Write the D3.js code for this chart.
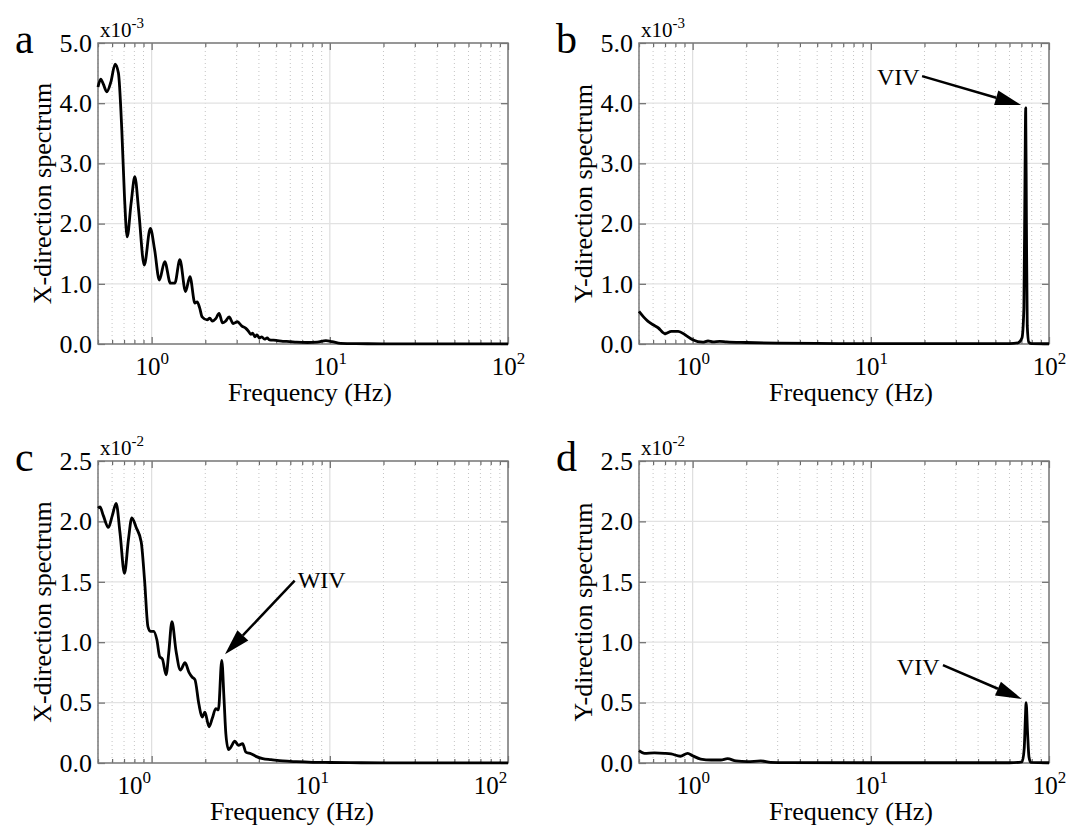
<!DOCTYPE html>
<html>
<head>
<meta charset="utf-8">
<script src="https://cdn.jsdelivr.net/npm/d3@7"></script>
<style>
body { margin: 0; background: #fff; }
text { font-family: "Liberation Serif", "Times New Roman", serif; fill: #000; }
</style>
</head>
<body>
<svg id="fig" width="1079" height="830"></svg>
<script>
// ---- data (frequency in Hz, spectrum in units of the axis exponent)
var freqA = [0.5, 0.518, 0.535, 0.56, 0.59, 0.624, 0.651, 0.68, 0.704, 0.729, 0.767, 0.805, 0.845, 0.909, 0.983,
    1.04, 1.105, 1.184, 1.275, 1.349, 1.44, 1.55, 1.64, 1.75, 1.8, 1.86, 1.92, 2.05, 2.12, 2.19, 2.29, 2.39, 2.5,
    2.6, 2.72, 2.87, 3.03, 3.2, 3.38, 3.5, 3.6, 3.69, 3.8, 3.9, 4.02, 4.15, 4.3, 4.45, 4.58, 5.0, 5.45, 5.94, 6.5,
    7.5, 8.5, 9.5, 10.3, 11.5, 14, 20, 40, 100];
var specA = [4.27, 4.40, 4.32, 4.19, 4.35, 4.65, 4.50, 3.56, 2.45, 1.78, 2.34, 2.78, 2.23, 1.31, 1.92,
    1.56, 1.06, 1.37, 1.01, 1.01, 1.40, 0.87, 1.12, 0.68, 0.70, 0.60, 0.45, 0.40, 0.43, 0.38, 0.42, 0.51, 0.35,
    0.38, 0.45, 0.34, 0.37, 0.30, 0.26, 0.21, 0.16, 0.18, 0.12, 0.15, 0.10, 0.12, 0.08, 0.10, 0.07, 0.06, 0.045, 0.04, 0.03,
    0.025, 0.03, 0.055, 0.04, 0.01, 0.005, 0.003, 0.002, 0.002];

var freqB = [0.5, 0.53, 0.56, 0.6, 0.64, 0.7, 0.76, 0.83, 0.91, 1.0, 1.14, 1.22, 1.3, 1.42, 1.55, 2, 3, 5, 10, 30,
    60, 67, 70.5, 72.3, 73.3, 74, 74.7, 75.5, 77, 80, 100];
var specB = [0.54, 0.45, 0.38, 0.32, 0.27, 0.17, 0.21, 0.21, 0.15, 0.07, 0.03, 0.05, 0.035, 0.045, 0.035, 0.025, 0.015, 0.01, 0.006, 0.005,
    0.006, 0.02, 0.1, 0.6, 2.7, 3.92, 2.0, 0.3, 0.03, 0.005, 0.004];

var freqC = [0.5, 0.513, 0.535, 0.572, 0.602, 0.632, 0.665, 0.704, 0.741, 0.774, 0.819, 0.874, 0.913, 0.953, 0.983,
    1.026, 1.07, 1.11, 1.15, 1.205, 1.247, 1.3, 1.37, 1.45, 1.54, 1.62, 1.69, 1.75, 1.84, 1.92, 1.99, 2.1, 2.19,
    2.29, 2.37, 2.475, 2.55, 2.61, 2.7, 2.78, 2.93, 3.07, 3.24, 3.38, 3.61, 3.85, 4.2, 4.68, 5.45, 6.47, 8, 10, 15, 30, 100];
var specC = [2.11, 2.12, 2.05, 1.95, 2.05, 2.15, 1.90, 1.57, 1.85, 2.03, 1.95, 1.83, 1.51, 1.13, 1.09,
    1.09, 1.02, 0.88, 0.86, 0.73, 0.91, 1.17, 0.93, 0.77, 0.83, 0.75, 0.71, 0.69, 0.49, 0.38, 0.42, 0.30, 0.37,
    0.45, 0.44, 0.85, 0.52, 0.24, 0.11, 0.13, 0.18, 0.146, 0.16, 0.09, 0.077, 0.055, 0.036, 0.028, 0.017, 0.011, 0.006, 0.004, 0.002, 0.001, 0.001];

var freqD = [0.5, 0.537, 0.61, 0.695, 0.757, 0.853, 0.938, 1.0, 1.11, 1.27, 1.44, 1.57, 1.75, 2.03, 2.41, 2.74, 3.39,
    10, 60, 70.7, 72.6, 73.6, 74.4, 75.8, 77.2, 79, 100];
var specD = [0.103, 0.08, 0.083, 0.08, 0.075, 0.056, 0.08, 0.06, 0.033, 0.025, 0.025, 0.036, 0.017, 0.011, 0.017, 0.006, 0.003,
    0.002, 0.002, 0.01, 0.12, 0.35, 0.5, 0.25, 0.05, 0.005, 0.002];

// axis ticks
var freqDomain = [0.5, 100];
var decades = [1, 10, 100];
var yTicksAB = [0, 1, 2, 3, 4, 5];
var yTicksCD = [0, 0.5, 1.0, 1.5, 2.0, 2.5];

// annotations: [label, text f, text v, arrow-tail f, arrow-tail v, tip f, tip v]
var noteB = ['VIV', 18.8, 4.45, 19.4, 4.45, 69.8, 3.97];
var noteC = ['WIV', 6.6, 1.52, 6.35, 1.51, 2.58, 0.9];
var noteD = ['VIV', 24.3, 0.80, 25.4, 0.81, 70.4, 0.53];

var svg = d3.select('#fig');
var panelW = 410;

function drawPanel(p) {
    var h = p.h;
    var x = d3.scaleLog().domain(freqDomain).range([0, panelW]);
    var y = d3.scaleLinear().domain([0, p.yTicks[p.yTicks.length - 1]]).range([h, 0]);
    var g = svg.append('g').attr('transform', 'translate(' + p.left + ',' + p.top + ')');

    var minor = x.ticks().filter(function(d) { return decades.indexOf(d) < 0; });

    // grid
    g.selectAll('.vminor').data(minor).enter().append('line')
        .attr('x1', d => x(d)).attr('x2', d => x(d))
        .attr('y1', 0).attr('y2', h)
        .attr('stroke', '#c4c4c4').attr('stroke-width', 1).attr('stroke-dasharray', '1,3');
    g.selectAll('.vmajor').data(decades).enter().append('line')
        .attr('x1', d => x(d)).attr('x2', d => x(d))
        .attr('y1', 0).attr('y2', h)
        .attr('stroke', '#dedede').attr('stroke-width', 1.2);
    g.selectAll('.hmajor').data(p.yTicks).enter().append('line')
        .attr('x1', 0).attr('x2', panelW)
        .attr('y1', d => y(d)).attr('y2', d => y(d))
        .attr('stroke', '#e2e2e2').attr('stroke-width', 1.2);

    // inward ticks on all sides
    function ticks(axis, tr) {
        var a = g.append('g').attr('transform', tr).call(axis);
        a.select('.domain').remove();
        a.selectAll('line').attr('stroke', '#6a6a6a').attr('stroke-width', 1.2);
        return a;
    }
    ticks(d3.axisBottom(x).tickValues(minor).tickSize(-4).tickFormat(''), 'translate(0,' + h + ')');
    ticks(d3.axisTop(x).tickValues(minor).tickSize(-4).tickFormat(''), 'translate(0,0)');
    ticks(d3.axisTop(x).tickValues(decades).tickSize(-7).tickFormat(''), 'translate(0,0)');
    ticks(d3.axisRight(y).tickValues(p.yTicks).tickSize(-7).tickFormat(''), 'translate(' + panelW + ',0)');

    var xa = ticks(d3.axisBottom(x).tickValues(decades).tickSize(-7), 'translate(0,' + h + ')');
    xa.selectAll('text').text(null)
        .attr('y', 31).attr('dy', 0)
        .attr('x', p.labelShift)
        .style('font-size', '25px')
        .style('font-family', '"Liberation Serif", serif')
        .each(function(d) {
            var t = d3.select(this);
            t.append('tspan').text('10');
            t.append('tspan').attr('dy', '-0.62em').style('font-size', '17px').text(Math.round(Math.log10(d)));
        });

    var ya = ticks(d3.axisLeft(y).tickValues(p.yTicks).tickSize(-7).tickPadding(6).tickFormat(d3.format('.1f')), 'translate(0,0)');
    ya.selectAll('text')
        .style('font-size', '26px')
        .style('font-family', '"Liberation Serif", serif');

    // frame
    g.append('rect').attr('width', panelW).attr('height', h)
        .attr('fill', 'none').attr('stroke', '#7a7a7a').attr('stroke-width', 1.5);

    // curve
    var line = d3.line()
        .x(function(d, i) { return x(p.freq[i]); })
        .y(function(d) { return y(d); })
        .curve(d3.curveMonotoneX);
    g.append('path').datum(p.spec)
        .attr('d', line)
        .attr('fill', 'none').attr('stroke', '#000')
        .attr('stroke-width', 2.8).attr('stroke-linejoin', 'round');

    // labels
    var ex = g.append('text').attr('x', 2).attr('y', -6).style('font-size', '21px');
    ex.append('tspan').text('x10');
    ex.append('tspan').attr('dy', '-0.6em').style('font-size', '15px').text(p.exp);

    g.append('text').attr('x', -83).attr('y', 10).style('font-size', '42px').text(p.letter);

    g.append('text')
        .attr('transform', 'translate(-56,' + (h / 2) + ') rotate(-90)')
        .attr('text-anchor', 'middle').attr('dy', '0.35em')
        .style('font-size', '26px').text(p.ylabel);

    g.append('text')
        .attr('x', panelW / 2 + 7 + p.labelShift).attr('y', h + 57)
        .attr('text-anchor', 'middle')
        .style('font-size', '26px').text('Frequency (Hz)');

    if (p.note) {
        var n = p.note;
        var leftSide = n[1] < n[3];
        g.append('text')
            .attr('x', x(n[1])).attr('y', y(n[2]))
            .attr('dy', '0.35em')
            .attr('text-anchor', leftSide ? 'end' : 'start')
            .style('font-size', '24px').text(n[0]);
        var x0 = x(n[3]), y0 = y(n[4]), x1 = x(n[5]), y1 = y(n[6]);
        var ang = Math.atan2(y1 - y0, x1 - x0);
        var len = 26, hw = 7.5;
        var bx = x1 - len * Math.cos(ang), by = y1 - len * Math.sin(ang);
        g.append('line')
            .attr('x1', x0).attr('y1', y0).attr('x2', bx).attr('y2', by)
            .attr('stroke', '#000').attr('stroke-width', 2.5);
        g.append('polygon')
            .attr('points', [
                [x1, y1],
                [bx + hw * Math.sin(ang), by - hw * Math.cos(ang)],
                [bx - hw * Math.sin(ang), by + hw * Math.cos(ang)]
            ].map(function(q) { return q.join(','); }).join(' '))
            .attr('fill', '#000');
    }
}

drawPanel({ left: 98, top: 43, h: 301, freq: freqA, spec: specA, yTicks: yTicksAB, exp: '-3', letter: 'a',
    ylabel: 'X-direction spectrum', labelShift: 0, note: null });
drawPanel({ left: 639, top: 43, h: 301, freq: freqB, spec: specB, yTicks: yTicksAB, exp: '-3', letter: 'b',
    ylabel: 'Y-direction spectrum', labelShift: 0, note: noteB });
drawPanel({ left: 98, top: 461, h: 302, freq: freqC, spec: specC, yTicks: yTicksCD, exp: '-2', letter: 'c',
    ylabel: 'X-direction spectrum', labelShift: -18, note: noteC });
drawPanel({ left: 639, top: 461, h: 302, freq: freqD, spec: specD, yTicks: yTicksCD, exp: '-2', letter: 'd',
    ylabel: 'Y-direction spectrum', labelShift: 0, note: noteD });
</script>
</body>
</html>
